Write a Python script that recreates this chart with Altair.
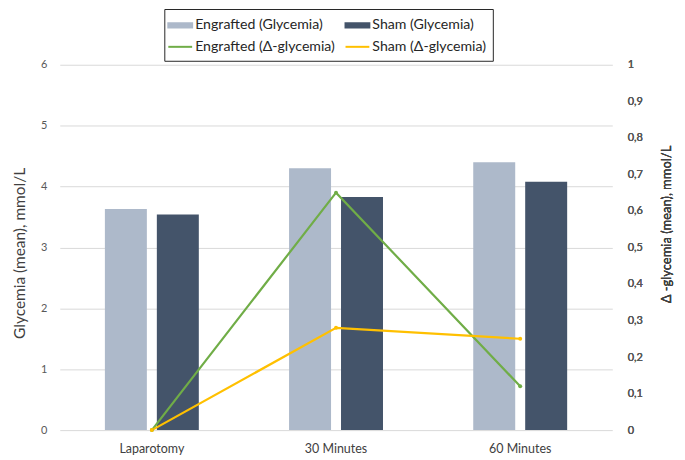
import altair as alt
import pandas as pd

categories = ["Laparotomy", "30 Minutes", "60 Minutes"]
engrafted_glycemia = [3.63, 4.30, 4.40]
sham_glycemia = [3.54, 3.83, 4.08]
engrafted_delta = [0.0, 0.65, 0.12]
sham_delta = [0.0, 0.28, 0.25]

series_names = ["Engrafted (Glycemia)", "Sham (Glycemia)",
                "Engrafted (Δ-glycemia)", "Sham (Δ-glycemia)"]
series_colors = ["#ADB9CA", "#44546A", "#70AD47", "#FFC000"]
right_ticks = [0, 0.1, 0.2, 0.3, 0.4, 0.5, 0.6, 0.7, 0.8, 0.9, 1]

bars = pd.DataFrame({
    "category": categories * 2,
    "series": [series_names[0]] * 3 + [series_names[1]] * 3,
    "value": engrafted_glycemia + sham_glycemia,
})
lines = pd.DataFrame({
    "category": categories * 2,
    "series": [series_names[2]] * 3 + [series_names[3]] * 3,
    "delta": engrafted_delta + sham_delta,
})

FONT = "Lato"
RECT = "M-1.33,-0.24H1.33V0.24H-1.33Z"
LINE = "M-1.33,0H1.33"

legend = alt.Legend(
    title=None,
    orient="none",
    direction="horizontal",
    legendX=105,
    legendY=-56,
    columns=2,
    columnPadding=6,
    rowPadding=4,
    padding=6,
    strokeColor="#262626",
    labelFont=FONT,
    labelFontSize=14.2,
    labelColor="#262626",
    labelLimit=300,
    labelOffset=5,
    symbolSize=324,
    symbolStrokeWidth=2,
    symbolOpacity=1,
)

color = alt.Color(
    "series:N",
    scale=alt.Scale(domain=series_names, range=series_colors),
    legend=legend,
)
shape = alt.Shape(
    "series:N",
    scale=alt.Scale(domain=series_names, range=[RECT, RECT, LINE, LINE]),
    legend=legend,
)

x = alt.X(
    "category:N",
    sort=categories,
    title=None,
    scale=alt.Scale(paddingInner=0.49, paddingOuter=0.245),
    axis=alt.Axis(labelAngle=0, labelFont=FONT, labelFontSize=12.5,
                  labelColor="#404040", labelPadding=12, ticks=False,
                  domain=False, grid=False),
)

bar_layer = alt.Chart(bars).mark_bar().encode(
    x=x,
    xOffset=alt.XOffset("series:N", sort=series_names[:2],
                        scale=alt.Scale(paddingInner=0.192)),
    y=alt.Y(
        "value:Q",
        scale=alt.Scale(domain=[0, 6], nice=False),
        axis=alt.Axis(title="Glycemia (mean), mmol/L", tickCount=6,
                      grid=True, gridColor="#D9D9D9", domain=False,
                      ticks=False, labelFont=FONT, labelFontSize=11,
                      labelColor="#595959", labelPadding=13,
                      titleFont=FONT, titleFontSize=15.5,
                      titleFontWeight="normal", titleColor="#404040",
                      titlePadding=13, titleY=189),
    ),
    color=color,
)

line_base = alt.Chart(lines).encode(
    x=x,
    y=alt.Y(
        "delta:Q",
        scale=alt.Scale(domain=[0, 1], nice=False),
        axis=alt.Axis(orient="right", title="Δ -glycemia (mean), mmol/L",
                      values=right_ticks, grid=False, domain=False,
                      ticks=False, labelFont=FONT, labelFontSize=11,
                      labelColor="#595959", labelPadding=15,
                      labelExpr="datum.value == 0 || datum.value == 1 ? format(datum.value, 'd') : replace(format(datum.value, '.1f'), '.', ',')",
                      titleFont=FONT, titleFontSize=13,
                      titleFontWeight="normal", titleColor="#404040",
                      titleAngle=270, titlePadding=31, titleY=160),
    ),
    color=color,
)
line_layer = line_base.mark_line(strokeWidth=2.2)
point_layer = line_base.mark_point(size=16, filled=True, opacity=1)
legend_layer = line_base.mark_point(filled=True, opacity=1).encode(
    shape=shape
).transform_filter("false")

chart = alt.layer(bar_layer, line_layer, point_layer, legend_layer).resolve_scale(
    y="independent"
).properties(
    width=555,
    height=367,
    autosize="none",
    padding={"left": 52, "top": 56, "right": 65, "bottom": 26},
    background="white",
).configure_view(stroke=None)

chart.save("out.html", embed_options={"renderer": "svg", "actions": False})
